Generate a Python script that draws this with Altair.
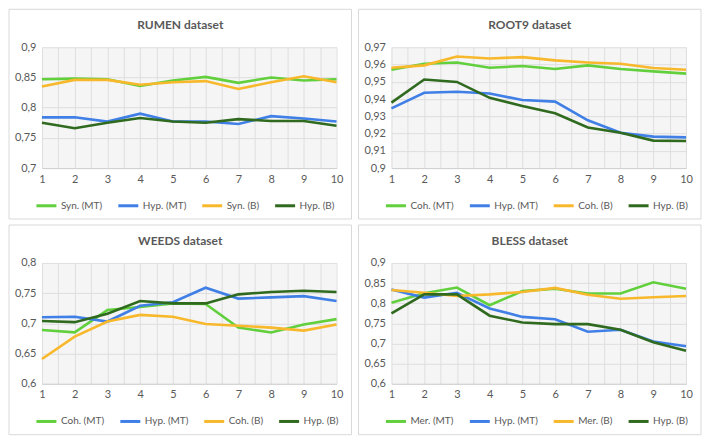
"""Four small line charts: MT vs baseline scores per dataset."""

import pandas as pd
import altair as alt

# ---- data -------------------------------------------------------------
STEPS = list(range(1, 11))
X_GRID = [i / 2 for i in range(2, 21)]

RUMEN_LABELS = ['Syn. (MT)', 'Hyp. (MT)', 'Syn. (B)', 'Hyp. (B)']
RUMEN_SYN_MT = [0.847, 0.848, 0.847, 0.836, 0.845, 0.851, 0.841, 0.850, 0.845, 0.847]
RUMEN_HYP_MT = [0.784, 0.784, 0.777, 0.790, 0.777, 0.777, 0.773, 0.786, 0.782, 0.777]
RUMEN_SYN_B = [0.835, 0.846, 0.846, 0.838, 0.842, 0.844, 0.831, 0.842, 0.852, 0.842]
RUMEN_HYP_B = [0.775, 0.766, 0.775, 0.783, 0.777, 0.775, 0.781, 0.778, 0.778, 0.770]
RUMEN_TICKS = [0.7, 0.75, 0.8, 0.85, 0.9]

ROOT9_LABELS = ['Coh. (MT)', 'Hyp. (MT)', 'Coh. (B)', 'Hyp. (B)']
ROOT9_COH_MT = [0.9570, 0.9604, 0.9612, 0.9581, 0.9591, 0.9574, 0.9595, 0.9574, 0.9560, 0.9547]
ROOT9_HYP_MT = [0.9346, 0.9436, 0.9442, 0.9432, 0.9394, 0.9385, 0.9277, 0.9205, 0.9182, 0.9178]
ROOT9_COH_B = [0.9581, 0.9595, 0.9646, 0.9635, 0.9643, 0.9624, 0.9612, 0.9604, 0.9580, 0.9570]
ROOT9_HYP_B = [0.9379, 0.9513, 0.9499, 0.9407, 0.9360, 0.9318, 0.9235, 0.9205, 0.9159, 0.9157]
ROOT9_TICKS = [0.9, 0.91, 0.92, 0.93, 0.94, 0.95, 0.96, 0.97]

WEEDS_LABELS = ['Coh. (MT)', 'Hyp. (MT)', 'Coh. (B)', 'Hyp. (B)']
WEEDS_COH_MT = [0.689, 0.685, 0.722, 0.727, 0.733, 0.732, 0.693, 0.685, 0.698, 0.707]
WEEDS_HYP_MT = [0.710, 0.711, 0.703, 0.729, 0.735, 0.759, 0.741, 0.743, 0.745, 0.737]
WEEDS_COH_B = [0.641, 0.678, 0.703, 0.714, 0.711, 0.699, 0.696, 0.693, 0.688, 0.698]
WEEDS_HYP_B = [0.704, 0.702, 0.716, 0.737, 0.733, 0.733, 0.748, 0.752, 0.754, 0.752]
WEEDS_TICKS = [0.6, 0.65, 0.7, 0.75, 0.8]

BLESS_LABELS = ['Mer. (MT)', 'Hyp. (MT)', 'Mer. (B)', 'Hyp. (B)']
BLESS_MER_MT = [0.801, 0.825, 0.839, 0.795, 0.830, 0.836, 0.824, 0.824, 0.852, 0.836]
BLESS_HYP_MT = [0.834, 0.814, 0.826, 0.787, 0.766, 0.760, 0.729, 0.734, 0.705, 0.693]
BLESS_MER_B = [0.833, 0.826, 0.818, 0.822, 0.828, 0.838, 0.821, 0.811, 0.815, 0.818]
BLESS_HYP_B = [0.775, 0.822, 0.822, 0.769, 0.752, 0.748, 0.748, 0.734, 0.703, 0.682]
BLESS_TICKS = [0.6, 0.65, 0.7, 0.75, 0.8, 0.85, 0.9]

COLORS = ['#62cf3d', '#3f7fe6', '#f8b82c', '#2f6a1f']

# ---- style ------------------------------------------------------------
# panel frame is 343 x 210 px; the plot area sits inside it
W, H = 295, 121
PAD_L, PAD_R, PAD_T, PAD_B = 33, 15, 38, 51
FONT = 'Lato'
TEXT = '#595959'
GRID = '#dedede'


def make_frame(labels, series):
    rows = []
    for label, values in zip(labels, series):
        for step, v in zip(STEPS, values):
            rows.append({'step': step, 'value': v, 'series': label})
    return pd.DataFrame(rows)


def panel(title, labels, series, ticks):
    df = make_frame(labels, series)
    dummy = pd.DataFrame({'k': [0]})

    # light frame around the whole panel
    box = alt.Chart(dummy).mark_rect(
        fillOpacity=0, stroke='#d9d9d9', strokeWidth=1
    ).encode(
        x=alt.value(-PAD_L), x2=alt.value(W + PAD_R),
        y=alt.value(-PAD_T), y2=alt.value(H + PAD_B),
    )

    head = alt.Chart(dummy).mark_text(
        text=title, font=FONT, fontSize=12, fontWeight='bold', color=TEXT,
        baseline='middle', align='center',
    ).encode(x=alt.value((W + PAD_R - PAD_L) / 2), y=alt.value(-22))

    lines = alt.Chart(df).mark_line(strokeWidth=2.6).encode(
        x=alt.X('step:Q', title=None,
                scale=alt.Scale(domain=[1, 10], nice=False, zero=False),
                axis=alt.Axis(values=X_GRID, ticks=False, grid=True,
                              labelExpr="datum.value % 1 == 0 ? format(datum.value, 'd') : ''",
                              labelFlush=False, labelOverlap=False,
                              labelPadding=5, domainColor='#d0d0d0')),
        y=alt.Y('value:Q', title=None,
                scale=alt.Scale(domain=[ticks[0], ticks[-1]], nice=False, zero=False),
                axis=alt.Axis(values=ticks, ticks=False, domain=False, grid=True,
                              labelPadding=6,
                              labelExpr="replace(format(datum.value, '.2~f'), '.', ',')")),
        color=alt.Color('series:N',
                        scale=alt.Scale(domain=labels, range=COLORS),
                        legend=alt.Legend(orient='none', legendX=-7, legendY=H + 26,
                                          direction='horizontal', columns=4, title=None,
                                          symbolType='stroke', symbolSize=400,
                                          symbolStrokeWidth=3, labelOffset=3,
                                          columnPadding=9)),
    )

    return alt.layer(box, lines, head).properties(width=W, height=H)


p1 = panel('RUMEN dataset', RUMEN_LABELS,
           [RUMEN_SYN_MT, RUMEN_HYP_MT, RUMEN_SYN_B, RUMEN_HYP_B], RUMEN_TICKS)
p2 = panel('ROOT9 dataset', ROOT9_LABELS,
           [ROOT9_COH_MT, ROOT9_HYP_MT, ROOT9_COH_B, ROOT9_HYP_B], ROOT9_TICKS)
p3 = panel('WEEDS dataset', WEEDS_LABELS,
           [WEEDS_COH_MT, WEEDS_HYP_MT, WEEDS_COH_B, WEEDS_HYP_B], WEEDS_TICKS)
p4 = panel('BLESS dataset', BLESS_LABELS,
           [BLESS_MER_MT, BLESS_HYP_MT, BLESS_MER_B, BLESS_HYP_B], BLESS_TICKS)


def row(a, b):
    return alt.hconcat(a, b, spacing=5).resolve_scale(
        color='independent', x='independent', y='independent'
    ).resolve_legend(color='independent')


chart = alt.vconcat(row(p1, p2), row(p3, p4), spacing=4).resolve_scale(
    color='independent', x='independent', y='independent'
).resolve_legend(color='independent').properties(
    padding=0
).configure_view(
    stroke=None, fill='#f5f5f5'
).configure_axis(
    labelFont=FONT, labelFontSize=11, labelColor=TEXT,
    gridColor=GRID, gridWidth=1,
).configure_legend(
    labelFont=FONT, labelFontSize=10, labelColor=TEXT,
)

chart.save("out.html", embed_options={"renderer": "svg", "actions": False})
